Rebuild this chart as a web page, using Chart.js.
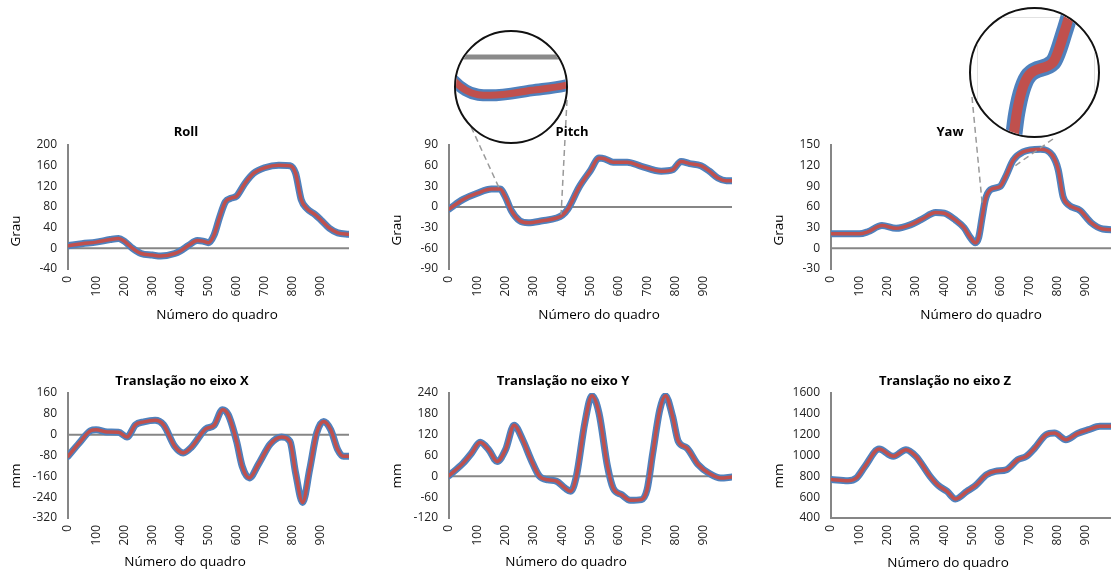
<!DOCTYPE html>
<html lang="pt">
<head>
<meta charset="utf-8">
<script src="https://cdn.jsdelivr.net/npm/chart.js@4.4.0/dist/chart.umd.min.js"></script>
<style>
  body { margin: 0; width: 1111px; height: 574px; overflow: hidden; background: #fff; position: relative; }
  canvas { position: absolute; }
  .lupa { position: absolute; border: 2px solid #111; border-radius: 50%; overflow: hidden; box-sizing: border-box; background: #fff; }
  .lupa canvas { left: 0; top: 0; }
  .moldura { position: absolute; border: 1px solid #e2e2e2; }
</style>
</head>
<body>
<canvas id="gRoll"></canvas>
<canvas id="gPitch"></canvas>
<canvas id="gYaw"></canvas>
<canvas id="gX"></canvas>
<canvas id="gY"></canvas>
<canvas id="gZ"></canvas>
<div class="lupa" id="lupaPitch" style="left:454px;top:30px;width:114px;height:114px"><canvas id="zPitch"></canvas></div>
<div class="lupa" id="lupaYaw" style="left:969px;top:7px;width:131px;height:131px"><div class="moldura" style="left:6px;top:8px;width:116px;height:140px"></div><canvas id="zYaw"></canvas></div>
<script>
// valores (número do quadro -> valor)
const rollQuadro = [0, 50, 100, 150, 180, 200, 230, 260, 300, 330, 380, 400, 430, 460, 480, 500, 520, 540, 560, 580, 600, 630, 660, 700, 750, 790, 810, 830, 850, 880, 900, 930, 960, 1000];
const roll = [5, 9, 12, 17, 19, 14, 0, -10, -13, -15, -10, -5, 6, 15, 14, 11, 26, 61, 90, 97, 101, 126, 145, 156, 161, 160, 145, 94, 77, 65, 55, 39, 30, 27];

const pitchQuadro = [0, 50, 100, 150, 180, 200, 220, 250, 280, 330, 380, 400, 420, 460, 500, 530, 550, 580, 630, 680, 750, 790, 820, 850, 890, 920, 950, 980, 1000];
const pitch = [-3, 11, 20, 26, 26, 14, -5, -20, -23, -20, -16, -12, -3, 29, 53, 71, 70, 65, 65, 59, 52, 54, 66, 63, 60, 52, 42, 38, 38];

const yawQuadro = [0, 100, 130, 180, 230, 280, 320, 370, 400, 440, 470, 490, 510, 522, 534, 545, 563, 598, 616, 644, 679, 740, 782, 803, 820, 840, 880, 920, 960, 1000];
const yaw = [21, 21, 24, 33, 29, 34, 42, 52, 51, 41, 30, 17, 8, 16, 45, 70, 85, 90, 103, 128, 140, 144, 135, 114, 75, 63, 55, 37, 28, 27];

const txQuadro = [0, 40, 80, 100, 140, 180, 210, 240, 270, 310, 340, 380, 410, 440, 490, 520, 550, 570, 600, 620, 645, 680, 720, 760, 790, 810, 835, 860, 885, 910, 935, 960, 980, 1000];
const tx = [-83, -32, 15, 19, 10, 9, -9, 38, 49, 55, 38, -45, -70, -47, 22, 36, 96, 77, -26, -122, -166, -109, -36, -9, -26, -147, -260, -134, 6, 51, 19, -58, -83, -83];

const tyQuadro = [0, 50, 80, 110, 140, 170, 200, 230, 260, 290, 320, 350, 380, 410, 430, 450, 480, 505, 530, 560, 580, 610, 640, 680, 700, 720, 745, 765, 790, 810, 840, 880, 920, 960, 1000];
const ty = [2, 38, 67, 98, 77, 43, 77, 147, 106, 48, 0, -10, -14, -34, -43, 0, 154, 232, 182, 29, -34, -53, -69, -67, -38, 67, 192, 232, 173, 101, 82, 34, 8, -5, -2];

const tzQuadro = [0, 60, 90, 120, 170, 220, 265, 300, 350, 380, 410, 440, 480, 510, 550, 580, 620, 660, 690, 720, 760, 790, 830, 870, 910, 950, 1000];
const tz = [770, 758, 784, 896, 1062, 992, 1056, 992, 800, 710, 656, 582, 656, 710, 816, 848, 864, 960, 992, 1072, 1200, 1216, 1152, 1210, 1248, 1280, 1280];

const AZUL = '#4F81BD';
const VERMELHO = '#C0504D';
const CINZA = '#868686';
const FONTE = '"Open Sans", sans-serif';

function pontos(q, v) {
    return q.map((x, i) => ({ x: x, y: v[i] }));
}

// azul largo por baixo, vermelho fino por cima (order menor = desenhado por último)
function series(q, v, larguraAzul, larguraVermelho) {
    return [
        { label: 'Referência', data: pontos(q, v), borderColor: AZUL, borderWidth: larguraAzul, order: 2 },
        { label: 'Estimado', data: pontos(q, v), borderColor: VERMELHO, borderWidth: larguraVermelho, order: 1 }
    ];
}

// linha horizontal do eixo (zero ou mínimo)
const linhaBase = {
    id: 'linhaBase',
    beforeDatasetsDraw(chart, args, o) {
        if (o.valor === undefined) return;
        const ctx = chart.ctx, a = chart.chartArea;
        const y = chart.scales.y.getPixelForValue(o.valor);
        ctx.save();
        ctx.strokeStyle = o.cor || CINZA;
        ctx.lineWidth = o.largura || 2;
        ctx.beginPath();
        ctx.moveTo(a.left, y);
        ctx.lineTo(a.right, y);
        ctx.stroke();
        ctx.restore();
    }
};

// títulos e linhas tracejadas até as lupas
const textos = {
    id: 'textos',
    afterDraw(chart, args, o) {
        if (!o.titulo) return;
        const ctx = chart.ctx;
        const dx = o.dx, dy = o.dy;
        ctx.save();
        (o.ligacoes || []).forEach(l => {
            ctx.strokeStyle = '#9a9a9a';
            ctx.lineWidth = 1.5;
            ctx.setLineDash([6, 4]);
            ctx.beginPath();
            ctx.moveTo(l.px - dx, l.py - dy);
            ctx.lineTo(chart.scales.x.getPixelForValue(l.quadro), chart.scales.y.getPixelForValue(l.valor));
            ctx.stroke();
        });
        ctx.setLineDash([]);
        ctx.fillStyle = '#000';
        ctx.textAlign = 'center';
        ctx.textBaseline = 'middle';
        ctx.font = 'bold 13px ' + FONTE;
        ctx.fillText(o.titulo[0], o.titulo[1] - dx, o.titulo[2] - dy);
        ctx.font = '13.5px ' + FONTE;
        ctx.fillText('Número do quadro', o.eixoX[0] - dx, o.eixoX[1] - dy);
        ctx.translate(o.eixoY[1] - dx, o.eixoY[2] - dy);
        ctx.rotate(-Math.PI / 2);
        ctx.fillText(o.eixoY[0], 0, 0);
        ctx.restore();
    }
};

Chart.register(linhaBase, textos);

function grafico(id, q, v, eixo, lay, txt) {
    const cv = document.getElementById(id);
    cv.width = lay.w;
    cv.height = lay.h;
    cv.style.left = lay.left + 'px';
    cv.style.top = lay.top + 'px';
    return new Chart(cv, {
        type: 'line',
        data: { datasets: series(q, v, 7, 3.5) },
        options: {
            responsive: false,
            animation: false,
            events: [],
            layout: { padding: { left: 0, top: lay.areaT - lay.top, right: lay.left + lay.w - lay.areaR, bottom: 0 } },
            elements: { point: { radius: 0 }, line: { cubicInterpolationMode: 'monotone', borderCapStyle: 'round', borderJoinStyle: 'round' } },
            plugins: {
                legend: { display: false },
                tooltip: { enabled: false },
                linhaBase: { valor: eixo.base },
                textos: Object.assign({ dx: lay.left, dy: lay.top }, txt)
            },
            scales: {
                x: {
                    type: 'linear', min: 0, max: 1000,
                    afterFit: s => { s.height = lay.top + lay.h - lay.areaB; },
                    grid: { display: false, drawTicks: false },
                    border: { display: false },
                    ticks: {
                        stepSize: 100, minRotation: 90, maxRotation: 90, padding: 7,
                        color: '#222', font: { family: FONTE, size: 12 },
                        callback: val => val < 1000 ? String(val) : null
                    }
                },
                y: {
                    min: eixo.min, max: eixo.max,
                    afterFit: s => { s.width = lay.areaL - lay.left; },
                    grid: { display: false, drawTicks: false },
                    border: { display: true, color: CINZA, width: 2 },
                    ticks: { stepSize: eixo.passo, padding: 11, color: '#222', font: { family: FONTE, size: 12 }, callback: val => String(val) }
                }
            }
        }
    });
}

function lupa(id, q, v, tam, faixa, base) {
    const cv = document.getElementById(id);
    cv.width = tam;
    cv.height = tam;
    return new Chart(cv, {
        type: 'line',
        data: { datasets: series(q, v, faixa.azul, faixa.vermelho) },
        options: {
            responsive: false,
            animation: false,
            events: [],
            elements: { point: { radius: 0 }, line: { cubicInterpolationMode: 'monotone' } },
            plugins: { legend: { display: false }, tooltip: { enabled: false }, linhaBase: { valor: base, cor: '#8a8a8a', largura: 5 } },
            scales: {
                x: { type: 'linear', display: false, min: faixa.x0, max: faixa.x1 },
                y: { display: false, min: faixa.y0, max: faixa.y1 }
            }
        }
    });
}

const topo = { top: 0, h: 340, areaT: 145, areaB: 269 };
const baixo = { top: 340, h: 234, areaT: 393, areaB: 518 };
const col1 = { left: 0, w: 370, areaL: 68, areaR: 349 };
const col2 = { left: 370, w: 370, areaL: 449, areaR: 732 };
const col3 = { left: 740, w: 375, areaL: 831, areaR: 1114 };

grafico('gRoll', rollQuadro, roll, { min: -40, max: 200, passo: 40, base: 0 }, Object.assign({}, topo, col1),
    { titulo: ['Roll', 186, 132], eixoX: [217, 315], eixoY: ['Grau', 16, 231] });
grafico('gPitch', pitchQuadro, pitch, { min: -90, max: 90, passo: 30, base: 0 }, Object.assign({}, topo, col2),
    { titulo: ['Pitch', 572, 132], eixoX: [599, 315], eixoY: ['Grau', 397, 230],
      ligacoes: [{ px: 467, py: 118, quadro: 180, valor: 25 }, { px: 567, py: 100, quadro: 396, valor: -11 }] });
grafico('gYaw', yawQuadro, yaw, { min: -30, max: 150, passo: 30, base: 0 }, Object.assign({}, topo, col3),
    { titulo: ['Yaw', 950, 132], eixoX: [981, 315], eixoY: ['Grau', 779, 230],
      ligacoes: [{ px: 972, py: 97, quadro: 534, valor: 66 }, { px: 1053, py: 139, quadro: 644, valor: 118 }] });
grafico('gX', txQuadro, tx, { min: -320, max: 160, passo: 80, base: 0 }, Object.assign({}, baixo, col1),
    { titulo: ['Translação no eixo X', 182, 381], eixoX: [185, 562], eixoY: ['mm', 16, 476] });
grafico('gY', tyQuadro, ty, { min: -120, max: 240, passo: 60, base: 0 }, Object.assign({}, baixo, col2),
    { titulo: ['Translação no eixo Y', 563, 381], eixoX: [566, 562], eixoY: ['mm', 397, 476] });
grafico('gZ', tzQuadro, tz, { min: 400, max: 1600, passo: 200, base: 400 }, Object.assign({}, baixo, col3),
    { titulo: ['Translação no eixo Z', 945, 381], eixoX: [948, 563], eixoY: ['mm', 779, 476] });

// lupas (ampliação de trechos das curvas)
lupa('zPitch', pitchQuadro, pitch, 110, { x0: 238, x1: 372, y0: -51, y1: 15, azul: 12, vermelho: 7 }, 0);
lupa('zYaw', yawQuadro, yaw, 127, { x0: 478, x1: 664, y0: 61, y1: 111, azul: 17, vermelho: 10 });
</script>
</body>
</html>
